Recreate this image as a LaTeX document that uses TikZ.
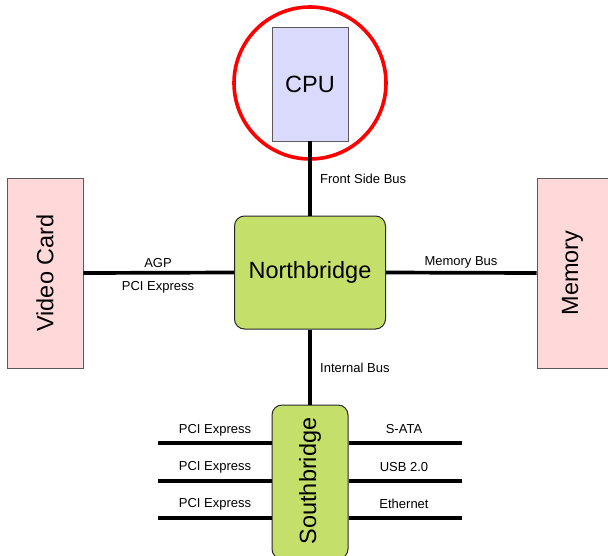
\documentclass[tikz,border=0pt]{standalone}
\usepackage{fontspec}
\setmainfont{Liberation Sans}
\definecolor{cpufill}{RGB}{218,218,252}
\definecolor{pinkfill}{RGB}{255,217,217}
\definecolor{greenfill}{RGB}{197,224,106}
\definecolor{boxedge}{RGB}{90,90,90}
\begin{document}
\begin{tikzpicture}[x=1pt,y=-1pt,
  big/.style={font=\fontsize{23.5}{26}\selectfont},
  small/.style={font=\fontsize{13}{15}\selectfont},
  plainbox/.style={draw=boxedge,line width=0.9pt,inner sep=0pt,big},
  chip/.style={draw=black!85,line width=1pt,rounded corners=10pt,fill=greenfill,inner sep=0pt,big},
  bus/.style={line width=3.7pt}]
\clip (0,0) rectangle (608,555);
\fill[white] (0,0) rectangle (608,555);
\node[circle,draw=red,line width=3.6pt,minimum size=152pt,inner sep=0pt] (ring) at (310,83) {};
\node[plainbox,fill=cpufill,minimum width=76pt,minimum height=114pt] (cpu) at (310,84) {CPU};
\node[chip,minimum width=151pt,minimum height=113pt] (nb) at (310,272.5) {Northbridge};
\node[plainbox,fill=pinkfill,minimum width=76pt,minimum height=190pt] (video) at (45,273) {};
\node[big,rotate=90] (videotext) at (45,273) {Video Card};
\node[plainbox,fill=pinkfill,minimum width=73pt,minimum height=190pt] (mem) at (573.5,273) {};
\node[big,rotate=90] (memtext) at (572.5,273) {Memory};
\node[chip,minimum width=76pt,minimum height=154pt] (sb) at (310,482) {};
\node[big,rotate=90] (sbtext) at (310,481) {Southbridge};

\draw[bus] (cpu.south) -- (nb.north);
\draw[bus] (video.east) -- (nb.west);
\draw[bus] (nb.east) -- (mem.west);
\draw[bus] (nb.south) -- (sb.north);

\coordinate (l1) at (158,443);
\coordinate (l2) at (158,481);
\coordinate (l3) at (158,518);
\coordinate (r1) at (462,443);
\coordinate (r2) at (462,481);
\coordinate (r3) at (462,518);
\draw[bus] (l1) -- (sb.west |- l1);
\draw[bus] (l2) -- (sb.west |- l2);
\draw[bus] (l3) -- (sb.west |- l3);
\draw[bus] (sb.east |- r1) -- (r1);
\draw[bus] (sb.east |- r2) -- (r2);
\draw[bus] (sb.east |- r3) -- (r3);

\node[small,anchor=base west,inner sep=0pt] (fsb) at (320,183) {Front Side Bus};
\node[small,anchor=base west,inner sep=0pt] (ib) at (320,372) {Internal Bus};
\node[small,anchor=base] (agp) at (158,267) {AGP};
\node[small,anchor=base] (pcie) at (158,290) {PCI Express};
\node[small,anchor=base] (membus) at (461,265.5) {Memory Bus};
\node[small,anchor=base] (pl1) at (215,433) {PCI Express};
\node[small,anchor=base] (pl2) at (215,470.5) {PCI Express};
\node[small,anchor=base] (pl3) at (215,507.5) {PCI Express};
\node[small,anchor=base] (sata) at (404,433.5) {S-ATA};
\node[small,anchor=base] (usb) at (404,471) {USB 2.0};
\node[small,anchor=base] (eth) at (404,508) {Ethernet};
\end{tikzpicture}
\end{document}
